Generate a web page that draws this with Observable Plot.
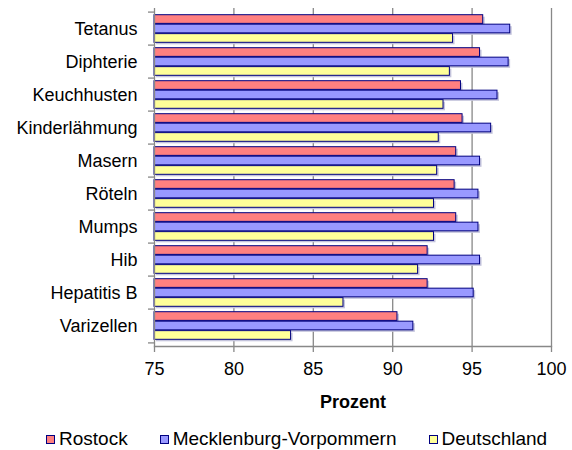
<!DOCTYPE html>
<html>
<head>
<meta charset="utf-8">
<script src="https://cdn.jsdelivr.net/npm/d3@7"></script>
<script src="https://cdn.jsdelivr.net/npm/@observablehq/plot@0.6"></script>
<style>
  html, body { margin: 0; padding: 0; background: #fff; }
  body { width: 572px; height: 450px; overflow: hidden; font-family: "Liberation Sans", Arial, sans-serif; }
  #legend { position: relative; width: 572px; height: 38px; display: flex; align-items: center; padding-left: 46px; box-sizing: border-box; font-size: 19px; color: #000; white-space: nowrap; }
  .item { display: flex; align-items: center; margin-right: 32px; flex-shrink: 0; white-space: nowrap; }
  .sw { width: 9px; height: 9px; border: 1px solid #000080; box-sizing: border-box; margin-right: 4px; flex-shrink: 0; }
</style>
</head>
<body>
<div id="chart"></div>
<div id="legend"></div>
<script>
const categories = ["Tetanus", "Diphterie", "Keuchhusten", "Kinderlähmung", "Masern", "Röteln", "Mumps", "Hib", "Hepatitis B", "Varizellen"];
const seriesNames = ["Rostock", "Mecklenburg-Vorpommern", "Deutschland"];
const rostock     = [95.7, 95.5, 94.3, 94.4, 94.0, 93.9, 94.0, 92.2, 92.2, 90.3];
const mv          = [97.4, 97.3, 96.6, 96.2, 95.5, 95.4, 95.4, 95.5, 95.1, 91.3];
const deutschland = [93.8, 93.6, 93.2, 92.9, 92.8, 92.6, 92.6, 91.6, 86.9, 83.6];
const xTicks = [75, 80, 85, 90, 95, 100];
const xLabel = "Prozent";

const colors = ["#FF8080", "#9999FF", "#FFFF99"];
const seriesValues = [rostock, mv, deutschland];
const xMin = xTicks[0], xMax = xTicks[xTicks.length - 1];

const W = 572, H = 420, mT = 8, mB = 74, mL = 154, mR = 21;
const bw = (H - mT - mB) / categories.length;
const pad = 2.7, bh = (bw - 2 * pad) / 3;

const rowsFor = (i) => categories.map((c, j) => ({cat: c, series: seriesNames[i], value: seriesValues[i][j]}));

const marks = [
  Plot.gridX(xTicks.slice(1), {stroke: "#888", strokeOpacity: 1, strokeWidth: 1.3})
];
// shadows
seriesNames.forEach((s, i) => {
  marks.push(Plot.barX(rowsFor(i), {
    x1: () => xMin, x2: "value", y: "cat",
    insetTop: pad + i * bh, insetBottom: bw - pad - (i + 1) * bh,
    fill: "#c4c4dc", dx: 2, dy: 2
  }));
});
seriesNames.forEach((s, i) => {
  marks.push(Plot.barX(rowsFor(i), {
    x1: () => xMin, x2: "value", y: "cat",
    insetTop: pad + i * bh, insetBottom: bw - pad - (i + 1) * bh,
    fill: colors[i], stroke: "#000080", strokeWidth: 1
  }));
});
marks.push(
  Plot.ruleX([xMin], {stroke: "#888", strokeWidth: 1.3}),
  Plot.frame({anchor: "bottom", stroke: "#888", strokeWidth: 1.3}),
  Plot.axisX(xTicks, {tickSize: 6, tickPadding: 10, stroke: "#888", strokeWidth: 1.3, label: null, fill: "#000", fontSize: 18}),
  Plot.axisY({tickSize: 0, tickPadding: 17, label: null, fontSize: 18, fill: "#000"}),
  Plot.axisY({tickSize: 6, tickFormat: () => "", dy: -bw / 2, stroke: "#888", strokeWidth: 1.3, label: null}),
  Plot.axisY([categories[categories.length - 1]], {tickSize: 6, tickFormat: () => "", dy: bw / 2, stroke: "#888", strokeWidth: 1.3, label: null}),
  Plot.text([xLabel], {text: d => d, frameAnchor: "bottom", lineAnchor: "middle", dy: 56, fontWeight: "bold", fontSize: 18, fill: "#000"})
);

const chart = Plot.plot({
  width: W, height: H,
  marginTop: mT, marginBottom: mB, marginLeft: mL, marginRight: mR,
  style: {fontFamily: '"Liberation Sans", Arial, sans-serif', fontSize: "18px", color: "#000", background: "#fff", overflow: "visible"},
  x: {domain: [xMin, xMax], axis: null},
  y: {domain: categories, padding: 0, axis: null},
  marks
});
document.getElementById("chart").appendChild(chart);

const legend = document.getElementById("legend");
seriesNames.forEach((s, i) => {
  const it = document.createElement("div");
  it.className = "item";
  const sw = document.createElement("div");
  sw.className = "sw";
  sw.style.background = colors[i];
  const t = document.createElement("span");
  t.textContent = s;
  it.appendChild(sw); it.appendChild(t);
  legend.appendChild(it);
});
</script>
</body>
</html>
